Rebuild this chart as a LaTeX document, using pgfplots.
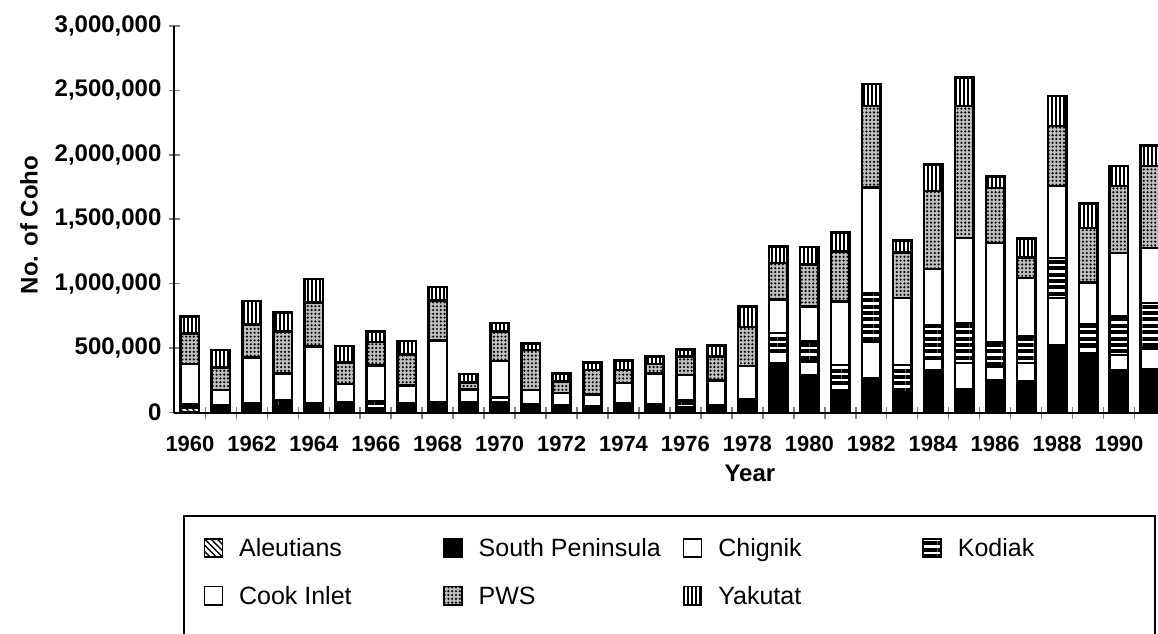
\documentclass[border=0pt]{standalone}
\usepackage{fontspec}
\setmainfont{Liberation Sans}
\usepackage{pgfplots}
\usepackage{pgfplotstable}
\pgfplotsset{compat=1.18}
\usetikzlibrary{patterns,patterns.meta}

% Coho catch by area, 1960-1991 (numbers of fish)
\pgfplotstableread{
year ale sp chig kod cook pws yak
1960 40000 10000 5000 10000 312000 234000 135000
1961 5000 50000 0 3000 117000 176000 135000
1962 5000 40000 10000 15000 359000 252000 185000
1963 5000 40000 0 52000 208000 324000 148000
1964 5000 55000 5000 5000 440000 345000 180000
1965 5000 75000 0 0 140000 170000 125000
1966 5000 25000 5000 55000 275000 181000 83000
1967 5000 65000 0 0 140000 240000 105000
1968 5000 45000 5000 25000 480000 310000 105000
1969 4000 78000 0 0 95000 55000 66000
1970 5000 65000 5000 40000 285000 230000 65000
1971 5000 60000 0 0 110000 310000 52000
1972 3000 52000 0 0 95000 90000 65000
1973 3000 45000 0 0 92000 190000 60000
1974 5000 40000 0 25000 160000 100000 73000
1975 5000 40000 0 20000 240000 72000 57000
1976 3000 40000 0 52000 197000 142000 55000
1977 4000 55000 0 0 190000 185000 85000
1978 5000 80000 0 20000 255000 303000 160000
1979 0 383000 90000 143000 259000 286000 129000
1980 0 292000 104000 155000 273000 324000 137000
1981 0 170000 57000 143000 492000 390000 147000
1982 0 266000 285000 376000 818000 635000 169000
1983 0 140000 15000 215000 518000 356000 91000
1984 0 331000 90000 252000 441000 604000 208000
1985 0 180000 203000 311000 661000 1025000 220000
1986 0 248000 109000 186000 773000 428000 86000
1987 0 240000 143000 207000 454000 161000 145000
1988 0 525000 363000 312000 557000 467000 234000
1989 0 460000 52000 169000 330000 422000 190000
1990 0 326000 121000 299000 493000 518000 156000
1991 0 336000 163000 351000 428000 635000 161000
}\coho

\newcommand{\legtext}[1]{\hspace*{8pt}\makebox[102pt][l]{#1}}

\tikzset{
  aleut/.style={fill=white, postaction={pattern={Lines[angle=-45,distance=2.2pt,line width=0.7pt]}}},
  southpen/.style={fill=black},
  chignik/.style={fill=white},
  kodiak/.style={fill=white, postaction={pattern={Lines[angle=0,distance=3.2pt,line width=2pt]}}},
  cook/.style={fill=white},
  pws/.style={fill=gray!50, postaction={pattern={Dots[distance=1.9pt,radius=0.6pt]}}},
  yakutat/.style={fill=white, postaction={pattern={Lines[angle=90,distance=2pt,line width=1.15pt]}}},
}

\begin{document}
\begin{tikzpicture}
\useasboundingbox (0,0) rectangle (579pt,316.5pt);
\begin{axis}[
  at={(87.25pt,110.25pt)}, anchor=south west,
  scale only axis,
  width=491.75pt, height=193.25pt,
  ybar stacked, bar width=9.2pt,
  xmin=1959.5, xmax=1991.26,
  ymin=0, ymax=3000000,
  axis lines=left,
  axis line style={-, line width=1pt},
  tick align=center,
  xtick={1960,1962,...,1990},
  minor xtick={1960.5,1961.5,...,1990.5},
  major x tick style={draw=none},
  minor x tick style={line width=0.8pt},
  ytick={0,500000,...,3000000},
  y tick style={line width=0.8pt},
  major tick length=6pt,
  minor tick length=6pt,
  scaled y ticks=false,
  /pgf/number format/assume math mode=true,
  yticklabel style={font=\fontsize{12}{14}\selectfont\bfseries,
    /pgf/number format/.cd, fixed, 1000 sep={,}},
  xticklabel style={font=\fontsize{11}{13}\selectfont\bfseries, yshift=-5.5pt,
    /pgf/number format/.cd, 1000 sep={}},
  ylabel={No. of Coho},
  ylabel style={font=\fontsize{12}{14}\selectfont\bfseries,
    at={(axis description cs:-0.148,0.485)}, anchor=center},
  xlabel={Year},
  xlabel style={font=\fontsize{12}{14}\selectfont\bfseries,
    at={(axis description cs:0.585,-0.157)}, anchor=center},
  every axis plot/.append style={draw=black, line width=1.3pt},
  legend columns=4,
  legend image code/.code={\draw[#1, line width=0.8pt] (0pt,-0.2pt) rectangle (9pt,9pt);},
  legend style={
    at={(axis description cs:0.0295,-0.3247)}, anchor=north west,
    draw=none, fill=none, inner sep=0pt, outer sep=0pt,
    column sep=0pt, row sep=11.5pt,
    font=\fontsize{12.5}{15}\selectfont,
    nodes={inner sep=0pt, text height=9pt, text depth=3pt, anchor=base west},
  },
]
\addplot[aleut]    table[x=year,y=ale]{\coho};  \addlegendentry{\legtext{Aleutians}}
\addplot[southpen] table[x=year,y=sp]{\coho};   \addlegendentry{\legtext{South Peninsula}}
\addplot[chignik]  table[x=year,y=chig]{\coho}; \addlegendentry{\legtext{Chignik}}
\addplot[kodiak]   table[x=year,y=kod]{\coho};  \addlegendentry{\legtext{Kodiak}}
\addplot[cook]     table[x=year,y=cook]{\coho}; \addlegendentry{\legtext{Cook Inlet}}
\addplot[pws]      table[x=year,y=pws]{\coho};  \addlegendentry{\legtext{PWS}}
\addplot[yakutat]  table[x=year,y=yak]{\coho};  \addlegendentry{\legtext{Yakutat}}
\end{axis}
% frame around the legend, open at the bottom
\draw[line width=0.9pt] (92pt,-5pt) -- (92pt,58.5pt) -- (577.5pt,58.5pt) -- (577.5pt,-5pt);
\end{tikzpicture}
\end{document}
